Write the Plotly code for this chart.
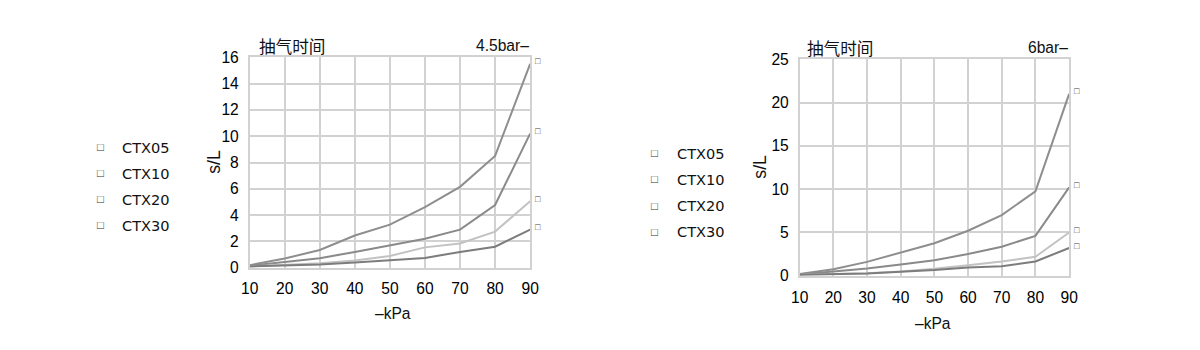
import plotly.graph_objects as go

kpa = [10, 20, 30, 40, 50, 60, 70, 80, 90]
series_names = ["CTX05", "CTX10", "CTX20", "CTX30"]

# 4.5 bar
t45_ctx05 = [0.2, 0.7, 1.35, 2.45, 3.28, 4.6, 6.15, 8.5, 15.5]
t45_ctx10 = [0.15, 0.43, 0.73, 1.2, 1.7, 2.2, 2.9, 4.77, 10.2]
t45_ctx20 = [0.1, 0.2, 0.35, 0.55, 0.9, 1.55, 1.85, 2.75, 5.05]
t45_ctx30 = [0.1, 0.15, 0.25, 0.4, 0.6, 0.75, 1.2, 1.6, 2.9]

# 6 bar
t6_ctx05 = [0.2, 0.75, 1.6, 2.7, 3.75, 5.2, 7.0, 9.75, 21.0]
t6_ctx10 = [0.15, 0.5, 0.85, 1.3, 1.8, 2.5, 3.35, 4.6, 10.2]
t6_ctx20 = [0.1, 0.2, 0.3, 0.5, 0.8, 1.2, 1.65, 2.2, 5.0]
t6_ctx30 = [0.1, 0.15, 0.25, 0.45, 0.65, 0.95, 1.1, 1.65, 3.2]

y45_ticks = [0, 2, 4, 6, 8, 10, 12, 14, 16]
y6_ticks = [0, 5, 10, 15, 20, 25]

colors = ["#8e8e8e", "#8a8a8a", "#c2c2c2", "#7c7c7c"]
grid = "#d2d2d2"
font_num = "Liberation Sans"
font_cjk = "Noto Sans CJK SC"

# compensation for page margin / capture scaling
OFF = 8
SX, SY = 1200 / 1216, 350 / 367
W, H = 1200, 350
FS = 1.04

def fx(xp):
    return (xp / SX - OFF) / W

def fy(yp):
    return 1 - (yp / SY - OFF) / H

fig = go.Figure()

left_sets = [t45_ctx05, t45_ctx10, t45_ctx20, t45_ctx30]
right_sets = [t6_ctx05, t6_ctx10, t6_ctx20, t6_ctx30]

for name, ys, c in zip(series_names, left_sets, colors):
    fig.add_trace(go.Scatter(x=kpa, y=ys, mode="lines", name=name,
                             line=dict(color=c, width=2), xaxis="x", yaxis="y",
                             showlegend=False))
for name, ys, c in zip(series_names, right_sets, colors):
    fig.add_trace(go.Scatter(x=kpa, y=ys, mode="lines", name=name,
                             line=dict(color=c, width=2), xaxis="x2", yaxis="y2",
                             showlegend=False))

axis_common = dict(showgrid=True, gridcolor=grid, gridwidth=1.5, zeroline=False,
                   showline=True, linecolor=grid, linewidth=1.5, mirror=True,
                   ticks="", tickfont=dict(family=font_num, size=15 * FS, color="#000"))

fig.update_layout(
    width=W, height=H,
    margin=dict(l=0, r=0, t=0, b=0),
    paper_bgcolor="white", plot_bgcolor="white",
    xaxis=dict(domain=[fx(249), fx(530)], range=[10, 90], tickvals=kpa,
               anchor="y", ticklabelstandoff=6, **axis_common),
    yaxis=dict(domain=[fy(267), fy(56)], range=[0, 16], tickvals=y45_ticks,
               anchor="x", ticklabelstandoff=6, **axis_common),
    xaxis2=dict(domain=[fx(800), fx(1070)], range=[10, 90], tickvals=kpa,
                anchor="y2", ticklabelstandoff=7, **axis_common),
    yaxis2=dict(domain=[fy(275), fy(58)], range=[0, 25], tickvals=y6_ticks,
                anchor="x2", ticklabelstandoff=6, **axis_common),
)

ann = []
def txt(xp, yp, s, size=13, family=font_num, color="#111", xanchor="left", angle=0):
    ann.append(dict(x=fx(xp), y=fy(yp), xref="paper", yref="paper", text=s, showarrow=False,
                    font=dict(size=size * FS, family=family, color=color),
                    xanchor=xanchor, yanchor="middle", textangle=angle))

# left panel texts
txt(256, 45, "抽气时间", size=16, family=font_cjk)
txt(531, 44, "4.5bar\u2013", size=15, xanchor="right")
txt(213, 161, "s/L", size=17, xanchor="center", angle=-90)
txt(393, 313, "\u2013kPa", size=15, xanchor="center")
# right panel texts
txt(805, 47, "抽气时间", size=16, family=font_cjk)
txt(1071, 46, "6bar\u2013", size=15, xanchor="right")
txt(760, 166, "s/L", size=17, xanchor="center", angle=-90)
txt(934, 323, "\u2013kPa", size=15, xanchor="center")

# legends
for i, name in enumerate(series_names):
    txt(94, 146 + 26.2 * i, "\u25a1", size=11, color="#333")
    txt(119, 146 + 26.2 * i, name, size=14, family="DejaVu Sans")
    txt(649, 152 + 26.3 * i, "\u25a1", size=11, color="#333")
    txt(675, 152 + 26.3 * i, name, size=14, family="DejaVu Sans")

# end markers
for ys in left_sets:
    ann.append(dict(x=kpa[-1], y=ys[-1], xref="x", yref="y", text="\u25a1", showarrow=False,
                    xanchor="left", xshift=3, yshift=3, font=dict(size=9, color="#444")))
for ys in right_sets:
    ann.append(dict(x=kpa[-1], y=ys[-1], xref="x2", yref="y2", text="\u25a1", showarrow=False,
                    xanchor="left", xshift=3, yshift=3, font=dict(size=9, color="#444")))

fig.update_layout(annotations=ann)
fig.write_html("out.html")
